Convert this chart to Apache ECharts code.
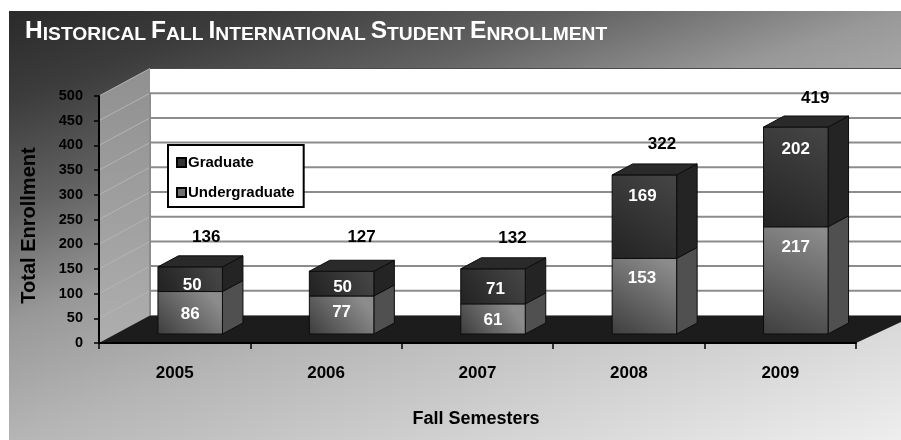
<!DOCTYPE html>
<html><head><meta charset="utf-8">
<style>html,body{margin:0;padding:0;background:#fff}#c{width:901px;height:440px}</style>
<script src="https://cdn.jsdelivr.net/npm/echarts@6/dist/echarts.min.js"></script>
</head><body><div id="c"></div>
<script>
const semesters = ['2005','2006','2007','2008','2009'];
const undergraduate = [86,77,61,153,217];
const graduate = [50,50,71,169,202];
const totals = [136,127,132,322,419];
const yTicks = [50,100,150,200,250,300,350,400,450,500];

// pixel styling of the fake 3-D scene (not data)
const WALL_DX = 51, WALL_DY = 27.5, FLOOR_RIGHT_DX = 59;
const BAR_W = 64.5, BAR_DX = 15.5, BAR_DY = 9, SIDE_DX = 20.5, SIDE_DY = 11;
const totalNudge = [[16,-30],[20,-33.5],[19.5,-30],[17.5,-30.5],[19.5,-28.5]];
const gradNudge = [[2,18.5],[1,16.5],[2.5,20.5],[-2,21.5],[0,22]];
const underNudge = [[0,22.5],[0,16.5],[0,16.5],[-2.5,20],[0,20.5]];
const FONT = '"Liberation Sans", Arial, sans-serif';

const chart = echarts.init(document.getElementById('c'), null, {renderer:'canvas'});

function lg(x,y,x2,y2,a,b){return {type:'linear',x,y,x2,y2,colorStops:[{offset:0,color:a},{offset:1,color:b}]};}

function box(params, api, base, colors, nudge, withTop){
  const i = api.value(0), v = api.value(1);
  const c0 = api.coord([i, base]), c1 = api.coord([i, base + v]);
  const xl = c0[0] + BAR_DX - BAR_W/2, xr = xl + BAR_W;
  const yb = c0[1] - BAR_DY, yt = c1[1] - BAR_DY;
  const stroke = {stroke:'#0c0c0c', lineWidth:1};
  const kids = [
    {type:'polygon', shape:{points:[[xr,yb],[xr+SIDE_DX,yb-SIDE_DY],[xr+SIDE_DX,yt-SIDE_DY],[xr,yt]]},
     style:Object.assign({fill:colors.side},stroke)},
    {type:'rect', shape:{x:xl,y:yt,width:BAR_W,height:yb-yt},
     style:Object.assign({fill:colors.front},stroke)}
  ];
  if(withTop) kids.push({type:'polygon', shape:{points:[[xl,yt],[xl+SIDE_DX,yt-SIDE_DY],[xr+SIDE_DX,yt-SIDE_DY],[xr,yt]]},
     style:Object.assign({fill:colors.top},stroke)});
  kids.push({type:'text', style:{text:String(v), x:(xl+xr)/2+nudge[params.dataIndex][0], y:yt+nudge[params.dataIndex][1],
     fill:'#fff', font:'bold 17px '+FONT, align:'center', verticalAlign:'middle'}});
  return {type:'group', children:kids};
}

const option = {
  animation:false,
  backgroundColor:'#fff',
  title:{
    left:20, top:14,
    text:'{a|H}{b|ISTORICAL} {a|F}{b|ALL} {a|I}{b|NTERNATIONAL} {a|S}{b|TUDENT} {a|E}{b|NROLLMENT}',
    textStyle:{rich:{
      a:{fontFamily:FONT,fontWeight:'bold',fontSize:24.5,color:'#fff'},
      b:{fontFamily:FONT,fontWeight:'bold',fontSize:19.25,color:'#fff',verticalAlign:'bottom'}
    }}
  },
  graphic:[{type:'rect',z:-10,silent:true,shape:{x:9,y:11,width:892,height:429},
    style:{fill:{type:'linear',global:true,x:9,y:11,x2:238.7,y2:670.5,colorStops:[
      {offset:0,color:'#2a2a2a'},{offset:0.12,color:'#3c3c3c'},{offset:0.27,color:'#626262'},
      {offset:0.42,color:'#989898'},{offset:0.58,color:'#b5b5b5'},{offset:1,color:'#eeeeee'}]}}}],
  legend:{
    orient:'vertical', left:168, top:145, data:['Graduate','Undergraduate'],
    backgroundColor:'#fff', borderColor:'#000', borderWidth:2, borderRadius:0,
    padding:[10,9,7,8], itemWidth:9, itemHeight:9, itemGap:15, icon:'rect', selectedMode:false,
    textStyle:{color:'#000',fontFamily:FONT,fontWeight:'bold',fontSize:15,padding:[0,0,0,-3]},
    z:20
  },
  grid:{left:99,right:45,top:96,bottom:97},
  xAxis:{type:'category',data:semesters,z:8,
    name:'Fall Semesters',nameLocation:'middle',nameGap:67,
    nameTextStyle:{color:'#000',fontFamily:FONT,fontWeight:'bold',fontSize:18,padding:[0,3,0,0]},
    axisLine:{lineStyle:{color:'#000',width:2}},
    axisTick:{show:true,length:6,lineStyle:{color:'#000',width:1.5}},
    axisLabel:{color:'#000',fontFamily:FONT,fontWeight:'bold',fontSize:17,margin:22},
    splitLine:{show:false}
  },
  yAxis:{type:'value',min:0,max:500,interval:50,z:8,
    name:'Total Enrollment',nameLocation:'middle',nameGap:60,
    nameTextStyle:{color:'#000',fontFamily:FONT,fontWeight:'bold',fontSize:20,padding:[0,12,0,0]},
    axisLine:{show:true,lineStyle:{color:'#000',width:2}},
    axisTick:{show:true,length:5,lineStyle:{color:'#000',width:1.5}},
    axisLabel:{color:'#000',fontFamily:FONT,fontWeight:'bold',fontSize:14.5,margin:16,padding:[2,0,0,0]},
    splitLine:{show:false}
  },
  series:[
    {type:'custom',name:'walls',z:1,silent:true,clip:false,data:[[0]],encode:{x:0},
     renderItem(params,api){
       const cs=params.coordSys, y0=api.coord([0,0])[1], y5=api.coord([0,500])[1], l=cs.x, r=cs.x+cs.width;
       return {type:'group',children:[
         {type:'rect',shape:{x:l+WALL_DX,y:y5-WALL_DY,width:r-l,height:y0-y5},style:{fill:'#fff'}},
         {type:'polygon',shape:{points:[[l,y5],[l+WALL_DX,y5-WALL_DY],[l+WALL_DX,y0-WALL_DY],[l,y0]]},
          style:{fill:lg(0,0,0,1,'#909090','#aeaeae')}}
       ]};
     }},
    {type:'custom',name:'gridlines',z:2,silent:true,clip:false,data:yTicks.map(t=>[0,t]),encode:{x:0,y:1},
     renderItem(params,api){
       const cs=params.coordSys, y=api.coord([0,api.value(1)])[1], l=cs.x, r=cs.x+cs.width;
       const top=api.value(1)===500;
       return {type:'group',children:[
         {type:'line',shape:{x1:l,y1:y,x2:l+WALL_DX,y2:y-WALL_DY},style:{stroke:'#b4b4b4',lineWidth:1}},
         {type:'line',shape:{x1:l+WALL_DX,y1:y-WALL_DY,x2:r+WALL_DX,y2:y-WALL_DY},
          style:{stroke:top?'#4a4a4a':'#8c8c8c',lineWidth:top?1:2}}
       ]};
     }},
    {type:'custom',name:'floor',z:3,silent:true,clip:false,data:[[0]],encode:{x:0},
     renderItem(params,api){
       const cs=params.coordSys, y0=api.coord([0,0])[1], l=cs.x, r=cs.x+cs.width;
       return {type:'group',children:[
         {type:'line',shape:{x1:l+WALL_DX,y1:96-WALL_DY+24,x2:l+WALL_DX,y2:y0-WALL_DY},style:{stroke:'#8c8c8c',lineWidth:2}},
         {type:'polygon',shape:{points:[[l,y0],[r,y0],[r+FLOOR_RIGHT_DX,y0-WALL_DY],[l+WALL_DX,y0-WALL_DY]]},style:{fill:'#1c1c1c'}}
       ]};
     }},
    {type:'custom',name:'Undergraduate',z:4,clip:false,
     itemStyle:{color:'#707070',borderColor:'#000',borderWidth:1},
     data:undergraduate.map((v,i)=>[i,v]),encode:{x:0,y:1},
     renderItem(params,api){
       return box(params,api,0,{side:'#505050',front:lg(0.05,1,0.75,0,'#3f3f3f','#8c8c8c')},underNudge,false);
     }},
    {type:'custom',name:'Graduate',z:5,clip:false,
     itemStyle:{color:'#333333',borderColor:'#000',borderWidth:1},
     data:graduate.map((v,i)=>[i,v]),encode:{x:0,y:1},
     renderItem(params,api){
       const base=undergraduate[params.dataIndex];
       return box(params,api,base,{side:'#242424',top:'#2a2a2a',front:lg(0.9,0,0.1,1,'#454545','#242424')},gradNudge,true);
     }},
    {type:'custom',name:'Total',z:6,silent:true,clip:false,
     data:totals.map((v,i)=>[i,v]),encode:{x:0,y:1},
     renderItem(params,api){
       const i=api.value(0), c=api.coord([i,api.value(1)]), n=totalNudge[params.dataIndex];
       return {type:'text',style:{text:String(api.value(1)),x:c[0]+BAR_DX+n[0],y:c[1]-BAR_DY+n[1],
         fill:'#000',font:'bold 17px '+FONT,align:'center',verticalAlign:'middle'}};
     }}
  ]
};
chart.setOption(option);
</script></body></html>
